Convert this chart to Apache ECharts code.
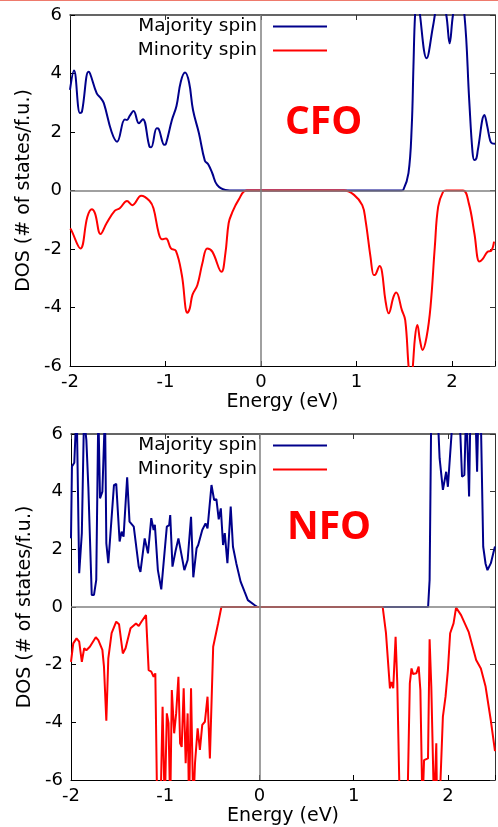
<!DOCTYPE html>
<html>
<head>
<meta charset="utf-8">
<script src="https://cdn.jsdelivr.net/npm/echarts@6/dist/echarts.min.js"></script>
<style>html,body{margin:0;padding:0;background:#fff;}#c{width:498px;height:827px;}</style>
</head>
<body>
<div id="c"></div>
<script>
// ---- Data (Energy in eV, DOS in states/f.u.) ----
const cfoMajE = [-2, -1.958, -1.896, -1.875, -1.807, -1.79, -1.72, -1.676, -1.645, -1.565, -1.507, -1.427, -1.403, -1.375, -1.334, -1.279, -1.237, -1.168, -1.15, -1.092, -1.07, -1.012, -0.995, -0.933, -0.885, -0.84, -0.795, -0.753, -0.712, -0.65, -0.588, -0.553, -0.51, -0.46, -0.373, -0.27, 1.47, 1.49, 1.544, 1.578, 1.596, 1.613, 1.64, 1.665, 1.734, 1.80, 1.82, 1.87, 1.94, 1.975, 2.01, 2.07, 2.13, 2.18, 2.215, 2.234, 2.255, 2.27, 2.34, 2.37, 2.40, 2.42, 2.45];
const cfoMajDOS = [3.44, 4.1, 2.65, 2.69, 4.06, 4.0, 3.32, 3.15, 2.98, 2.01, 1.67, 2.43, 2.41, 2.55, 2.72, 2.3, 2.44, 1.5, 1.48, 2.13, 2.1, 1.56, 1.6, 2.41, 2.89, 3.72, 4.03, 3.69, 2.75, 1.96, 1.02, 0.9, 0.59, 0.19, 0.02, 0, 0, 0.02, 0.59, 2.18, 4.23, 6.0, 7.0, 6.0, 4.52, 5.6, 6.0, 7.0, 6.0, 5.03, 6.0, 7.0, 6.0, 3.09, 1.3, 1.04, 1.1, 1.38, 2.58, 2.18, 1.7, 1.61, 1.6];

const cfoMinE = [-2, -1.99, -1.891, -1.818, -1.772, -1.738, -1.68, -1.617, -1.53, -1.479, -1.403, -1.347, -1.254, -1.168, -1.126, -1.071, -1.036, -0.995, -0.943, -0.891, -0.829, -0.771, -0.746, -0.718, -0.666, -0.614, -0.563, -0.51, -0.414, -0.373, -0.339, -0.305, -0.235, -0.149, 0.87, 0.974, 1.06, 1.094, 1.146, 1.18, 1.19, 1.243, 1.267, 1.302, 1.337, 1.388, 1.416, 1.475, 1.51, 1.544, 1.567, 1.59, 1.613, 1.637, 1.664, 1.692, 1.734, 1.775, 1.82, 1.855, 1.907, 1.94, 2.114, 2.176, 2.234, 2.286, 2.32, 2.372, 2.41, 2.44];
const cfoMinDOS = [-1.3, -1.33, -1.98, -0.9, -0.64, -0.78, -1.49, -1.12, -0.69, -0.61, -0.36, -0.5, -0.18, -0.35, -0.61, -1.46, -1.67, -1.64, -1.98, -2.06, -2.89, -4.18, -4.03, -3.57, -3.23, -2.49, -1.98, -2.09, -2.78, -2.15, -1.12, -0.78, -0.32, 0, 0, -0.15, -0.5, -1.01, -2.26, -2.89, -2.89, -2.58, -2.78, -3.74, -4.2, -3.63, -3.49, -4.09, -4.43, -5.97, -6.8, -6.0, -5.0, -4.6, -5.11, -5.45, -5.0, -3.97, -1.92, -0.55, -0.04, 0, 0, -0.44, -1.46, -2.43, -2.35, -2.09, -2.06, -1.75];

const nfoMajE = [-2, -1.99, -1.965, -1.94, -1.913, -1.885, -1.862, -1.837, -1.816, -1.78, -1.756, -1.732, -1.71, -1.692, -1.667, -1.639, -1.625, -1.604, -1.544, -1.52, -1.484, -1.463, -1.442, -1.404, -1.379, -1.334, -1.32, -1.281, -1.263, -1.218, -1.183, -1.148, -1.123, -1.11, -1.078, -1.042, -0.983, -0.958, -0.947, -0.923, -0.888, -0.86, -0.818, -0.797, -0.762, -0.726, -0.702, -0.667, -0.65, -0.607, -0.572, -0.551, -0.509, -0.481, -0.457, -0.432, -0.41, -0.386, -0.368, -0.34, -0.33, -0.305, -0.281, -0.246, -0.2, -0.158, -0.123, -0.053, -0.02, 1.79, 1.806, 1.824, 1.86, 1.901, 1.912, 1.947, 1.982, 2.0, 2.06, 2.12, 2.15, 2.175, 2.195, 2.21, 2.225, 2.24, 2.29, 2.31, 2.325, 2.35, 2.375, 2.40, 2.42, 2.456, 2.49, 2.5];
const nfoMajDOS = [2.38, 4.87, 5.0, 7.0, 1.17, 2.56, 6.6, 5.79, 4.17, 0.42, 0.42, 0.94, 6.8, 3.77, 4.0, 6.8, 2.21, 1.52, 4.23, 4.27, 2.27, 2.61, 2.44, 4.5, 2.96, 2.79, 2.85, 1.4, 1.22, 2.38, 1.86, 3.08, 2.67, 2.85, 1.28, 0.61, 2.79, 2.84, 3.19, 1.4, 1.98, 2.38, 1.65, 1.28, 1.63, 3.13, 1.03, 2.04, 2.15, 2.67, 2.9, 2.73, 4.23, 3.71, 3.74, 3.04, 3.42, 2.15, 2.56, 1.52, 1.55, 3.48, 2.09, 1.52, 0.88, 0.53, 0.24, 0.07, 0, 0, 0.94, 7.0, 7.0, 6.0, 5.16, 4.06, 4.69, 4.17, 7.0, 7.0, 4.52, 4.58, 7.0, 7.0, 3.83, 7.0, 7.0, 4.69, 7.0, 6.5, 2.09, 1.5, 1.28, 1.52, 1.98, 2.1];

const nfoMinE = [-2, -1.976, -1.941, -1.913, -1.885, -1.86, -1.837, -1.8, -1.737, -1.71, -1.667, -1.65, -1.625, -1.604, -1.569, -1.52, -1.49, -1.45, -1.421, -1.368, -1.31, -1.281, -1.253, -1.204, -1.176, -1.148, -1.123, -1.105, -1.085, -1.05, -1.028, -1.005, -0.983, -0.965, -0.947, -0.93, -0.905, -0.884, -0.86, -0.842, -0.825, -0.804, -0.783, -0.762, -0.747, -0.726, -0.702, -0.684, -0.656, -0.632, -0.607, -0.579, -0.551, -0.526, -0.491, -0.439, -0.404, 1.308, 1.343, 1.385, 1.40, 1.42, 1.445, 1.463, 1.49, 1.57, 1.596, 1.614, 1.63, 1.665, 1.69, 1.708, 1.73, 1.747, 1.789, 1.806, 1.824, 1.853, 1.877, 1.885, 1.91, 1.947, 1.975, 2.0, 2.024, 2.06, 2.087, 2.14, 2.22, 2.3, 2.35, 2.4, 2.455, 2.5];
const nfoMinDOS = [-1.9, -1.26, -1.09, -1.2, -1.9, -1.43, -1.5, -1.38, -1.05, -1.15, -1.49, -2.07, -3.94, -1.78, -0.91, -0.51, -0.6, -1.61, -1.43, -0.74, -0.57, -0.66, -0.51, -0.28, -2.19, -2.24, -2.42, -2.3, -7, -7, -3.46, -7, -3.69, -4.03, -7, -2.88, -4.38, -3.69, -2.42, -4.73, -4.85, -2.82, -5.42, -3.69, -7, -2.82, -7, -5.42, -4.21, -4.96, -4.09, -3.98, -3.11, -5.25, -1.38, -0.57, 0, 0, -0.91, -2.82, -2.6, -2.82, -1.03, -2.65, -7, -7, -2.65, -2.13, -2.32, -2.3, -2.07, -2.88, -7, -5.31, -5.25, -1.12, -2.76, -7, -4.73, -7, -7, -3.8, -3.11, -2.19, -0.91, -0.57, -0.02, -0.28, -0.86, -1.84, -2.13, -2.76, -3.92, -5.0];

const seriesNames = ['Majority spin', 'Minority spin'];
const panelLabels = ['CFO', 'NFO'];
const xTicks = [-2, -1, 0, 1, 2];
const yTicks = [-6, -4, -2, 0, 2, 4, 6];

function pairs(xs, ys) { return xs.map((x, i) => [x, ys[i]]); }

const FONT = 'DejaVu Sans';
const BLUE = '#00008b';
const RED = '#ff0000';

const grids = [
  { left: 70, top: 15, width: 429, height: 351, xMax: 2.45 },
  { left: 71, top: 434, width: 428, height: 346, xMax: 2.5 }
];

const xAxes = [], yAxes = [];
grids.forEach((g, i) => {
  xAxes.push({
    type: 'value', gridIndex: i, position: 'bottom', min: xTicks[0], max: g.xMax, interval: 1,
    name: 'Energy (eV)', nameLocation: 'middle', nameGap: 27,
    nameTextStyle: { fontFamily: FONT, fontSize: 19, color: '#000' },
    axisLine: { show: true, onZero: false, lineStyle: { color: '#000', width: 1 } },
    axisTick: { show: true, inside: true, length: 5, lineStyle: { color: '#000' } },
    axisLabel: { fontFamily: FONT, fontSize: 18, color: '#000', margin: 7,
      formatter: v => (xTicks.indexOf(Math.round(v * 1000) / 1000) >= 0 ? String(v) : '') },
    splitLine: { show: false }
  });
  xAxes.push({
    type: 'value', gridIndex: i, position: 'top', min: xTicks[0], max: g.xMax, interval: 1,
    axisLine: { show: true, onZero: false, lineStyle: { color: '#333', width: 1.5 } },
    axisTick: { show: true, inside: true, length: 5, lineStyle: { color: '#333' } },
    axisLabel: { show: false }, splitLine: { show: false }
  });
  yAxes.push({
    type: 'value', gridIndex: i, position: 'left', min: yTicks[0], max: yTicks[yTicks.length - 1], interval: 2,
    name: 'DOS (# of states/f.u.)', nameLocation: 'middle', nameGap: 27, nameRotate: 90,
    nameTextStyle: { fontFamily: FONT, fontSize: 19, color: '#000' },
    axisLine: { show: true, onZero: false, lineStyle: { color: '#000', width: 1 } },
    axisTick: { show: true, inside: true, length: 5, lineStyle: { color: '#000' } },
    axisLabel: { fontFamily: FONT, fontSize: 18, color: '#000', margin: 8 },
    splitLine: { show: false }
  });
  yAxes.push({
    type: 'value', gridIndex: i, position: 'right', min: yTicks[0], max: yTicks[yTicks.length - 1], interval: 2,
    axisLine: { show: true, onZero: false, lineStyle: { color: '#333', width: 1 } },
    axisTick: { show: true, inside: true, length: 5, lineStyle: { color: '#333' } },
    axisLabel: { show: false }, splitLine: { show: false }
  });
});

const zeroMark = {
  silent: true, symbol: ['none', 'none'], animation: false,
  label: { show: false },
  lineStyle: { color: '#808080', width: 1.5, type: 'solid' },
  data: [{ yAxis: 0 }, { xAxis: 0 }]
};

const panelData = [
  [pairs(cfoMajE, cfoMajDOS), pairs(cfoMinE, cfoMinDOS), 0.4],
  [pairs(nfoMajE, nfoMajDOS), pairs(nfoMinE, nfoMinDOS), false]
];

const series = [];
panelData.forEach((p, i) => {
  series.push({
    name: seriesNames[0], type: 'line', xAxisIndex: 2 * i, yAxisIndex: 2 * i,
    data: p[0], showSymbol: false, symbol: 'none', smooth: p[2], clip: true,
    color: BLUE, lineStyle: { color: BLUE, width: 2 }, markLine: zeroMark, z: 3
  });
  series.push({
    name: seriesNames[1], type: 'line', xAxisIndex: 2 * i, yAxisIndex: 2 * i,
    data: p[1], showSymbol: false, symbol: 'none', smooth: p[2], clip: true,
    color: RED, lineStyle: { color: RED, width: 2 }, z: 4
  });
});

const legendTops = [17, 436];
const legends = legendTops.map(t => ({
  orient: 'vertical', right: 171, top: t, align: 'right', padding: 0,
  itemWidth: 54, itemHeight: 2, itemGap: 5, icon: 'rect', selectedMode: false,
  textStyle: { fontFamily: FONT, fontSize: 18.5, color: '#000', padding: [0, 11, 0, 0] },
  data: seriesNames
}));

const chart = echarts.init(document.getElementById('c'), null, { renderer: 'canvas' });
chart.setOption({
  animation: false,
  backgroundColor: '#fff',
  grid: grids.map(g => ({ left: g.left, top: g.top, width: g.width, height: g.height, containLabel: false })),
  xAxis: xAxes,
  yAxis: yAxes,
  legend: legends,
  series: series,
  graphic: [
    { type: 'rect', left: 0, top: 0, shape: { width: 498, height: 1 }, style: { fill: '#ee7a6c' }, silent: true },
    { type: 'text', left: 285, top: 103, style: { text: panelLabels[0], fontFamily: 'Open Sans', fontWeight: 'bold', fontSize: 39, fill: RED } },
    { type: 'text', left: 287, top: 508, style: { text: panelLabels[1], fontFamily: 'Open Sans', fontWeight: 'bold', fontSize: 39, fill: RED } }
  ]
});
</script>
</body>
</html>
